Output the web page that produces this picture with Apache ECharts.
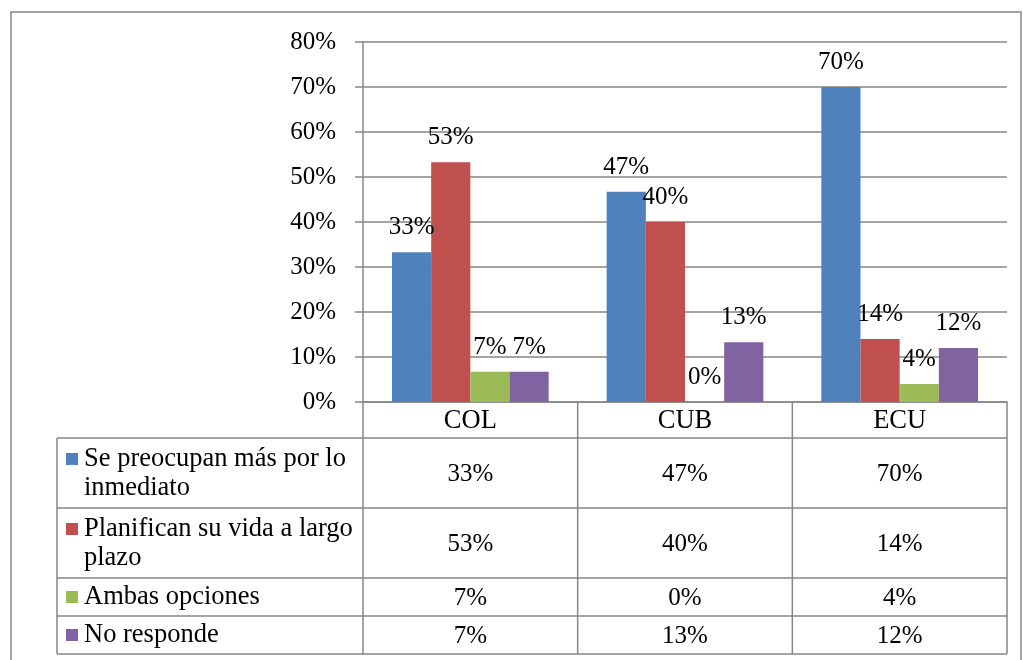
<!DOCTYPE html>
<html>
<head>
<meta charset="utf-8">
<script src="https://cdn.jsdelivr.net/npm/echarts@6/dist/echarts.min.js"></script>
<style>
  html, body { margin: 0; padding: 0; background: #fff; }
  #chart { width: 1023px; height: 660px; }
</style>
</head>
<body>
<div id="chart"></div>
<script>
var categories = ['COL', 'CUB', 'ECU'];
var seriesNames = ['Se preocupan más por lo inmediato', 'Planifican su vida a largo plazo', 'Ambas opciones', 'No responde'];
var tableLabels = ['Se preocupan más por lo\ninmediato', 'Planifican su vida a largo\nplazo', 'Ambas opciones', 'No responde'];
var inmediato = [33.3, 46.7, 70];
var largoPlazo = [53.3, 40, 14];
var ambas = [6.7, 0, 4];
var noResponde = [6.7, 13.3, 12];
var yTicks = [0, 10, 20, 30, 40, 50, 60, 70, 80];

var colors = ['#4F81BD', '#C0504D', '#9BBB59', '#8064A2'];
var lineColor = '#868686';
var font = '"Liberation Serif", "Times New Roman", serif';
var numSize = 25;   // percentages
var txtSize = 26.5; // words

// layout of plot + data table
var gLeft = 363, gTop = 42, gWidth = 644, gHeight = 360;
var gRight = gLeft + gWidth, gBottom = gTop + gHeight;
var tableLeft = 57;
var rowLines = [438, 508, 578, 616, 654];

var allValues = [inmediato, largoPlazo, ambas, noResponde];

var fmt = function (v) {
    return Math.round(v) + '%';
};

var buildGraphic = function () {
    var els = [];
    var colW = gWidth / categories.length;
    var ln = function (x1, y1, x2, y2) {
        els.push({
            type: 'line',
            shape: {x1: x1, y1: y1, x2: x2, y2: y2},
            style: {stroke: lineColor, lineWidth: 1.5}
        });
    };
    // outer frame
    els.push({
        type: 'rect',
        shape: {x: 11, y: 12, width: 1010, height: 700},
        style: {fill: null, stroke: lineColor, lineWidth: 1.5}
    });
    // horizontal row lines
    for (var i = 0; i < rowLines.length; i++) {
        ln(tableLeft, rowLines[i], gRight, rowLines[i]);
    }
    // vertical lines
    ln(tableLeft, rowLines[0], tableLeft, rowLines[rowLines.length - 1]);
    for (var c = 0; c <= categories.length; c++) {
        var x = gLeft + c * colW;
        ln(x, gBottom, x, rowLines[rowLines.length - 1]);
    }
    // rows: legend key, label, values
    for (var r = 0; r < seriesNames.length; r++) {
        var top = rowLines[r], bot = rowLines[r + 1];
        var mid = (top + bot) / 2;
        var twoLines = tableLabels[r].indexOf('\n') >= 0;
        var firstLineY = twoLines ? mid - 14 : mid;
        els.push({
            type: 'rect',
            shape: {x: 66, y: firstLineY - 6, width: 12, height: 12},
            style: {fill: colors[r]}
        });
        els.push({
            type: 'text',
            style: {
                text: tableLabels[r], x: 84, y: twoLines ? mid + 1 : mid,
                fontSize: txtSize, fontFamily: font, fill: '#000',
                lineHeight: 29, align: 'left', verticalAlign: 'middle'
            }
        });
        for (var k = 0; k < categories.length; k++) {
            els.push({
                type: 'text',
                style: {
                    text: fmt(allValues[r][k]), x: gLeft + (k + 0.5) * colW, y: mid + 1,
                    fontSize: numSize, fontFamily: font, fill: '#000',
                    align: 'center', verticalAlign: 'middle'
                }
            });
        }
    }
    return els;
};

var makeSeries = function (i) {
    return {
        name: seriesNames[i],
        type: 'bar',
        data: allValues[i],
        barGap: '0%',
        barCategoryGap: '27%',
        itemStyle: {color: colors[i]},
        label: {
            show: true,
            position: 'top',
            distance: 12,
            fontSize: numSize,
            fontFamily: font,
            color: '#000',
            formatter: function (p) { return fmt(p.value); }
        }
    };
};

var chart = echarts.init(document.getElementById('chart'));
var option = {
    animation: false,
    grid: {left: gLeft, top: gTop, width: gWidth, height: gHeight},
    xAxis: {
        type: 'category',
        data: categories,
        axisLine: {lineStyle: {color: lineColor, width: 1.5}},
        axisTick: {show: false},
        axisLabel: {fontSize: txtSize, fontFamily: font, color: '#000', margin: 6}
    },
    yAxis: {
        type: 'value',
        min: yTicks[0],
        max: yTicks[yTicks.length - 1],
        interval: 10,
        axisLine: {show: true, lineStyle: {color: lineColor, width: 1.5}},
        axisTick: {show: true, length: 8, lineStyle: {color: lineColor, width: 1.5}},
        splitLine: {lineStyle: {color: lineColor, width: 1.5}},
        axisLabel: {
            fontSize: numSize, fontFamily: font, color: '#000', margin: 27,
            formatter: function (v) { return v + '%'; }
        }
    },
    series: [makeSeries(0), makeSeries(1), makeSeries(2), makeSeries(3)],
    graphic: buildGraphic()
};
chart.setOption(option);
</script>
</body>
</html>
